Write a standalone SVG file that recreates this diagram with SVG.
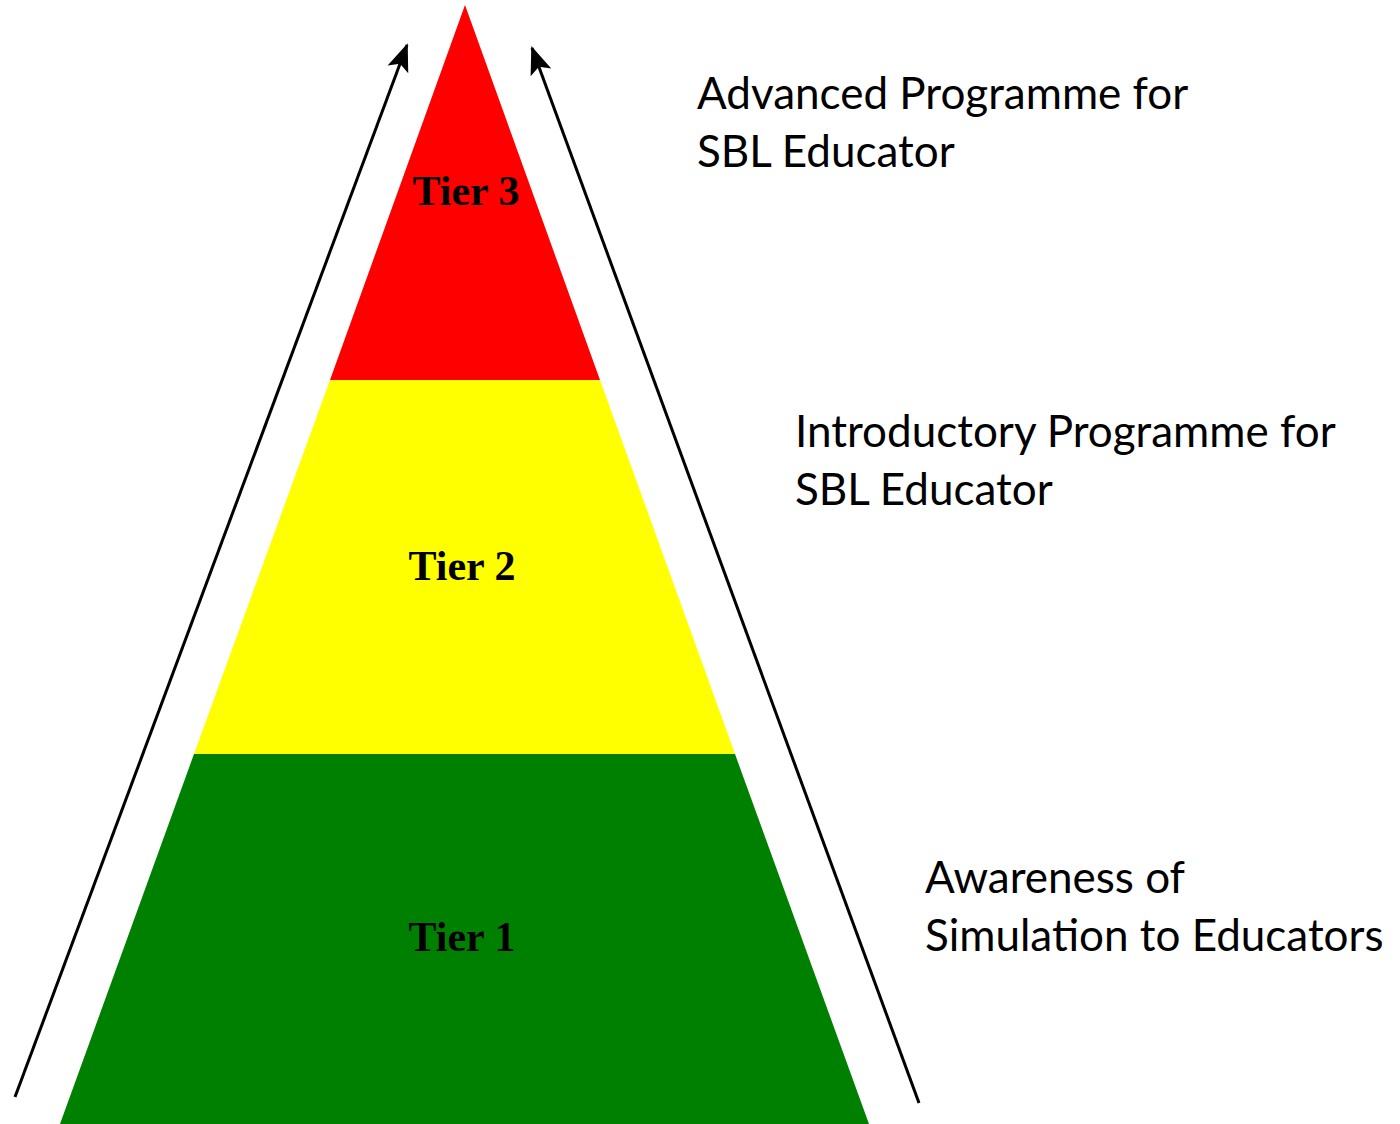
<svg xmlns="http://www.w3.org/2000/svg" width="1400" height="1124" viewBox="0 0 1400 1124">
  <style>
    .tier { font-family: "Liberation Serif", "Times New Roman", serif; font-weight: bold; font-size: 42px; fill: #000; text-anchor: middle; }
    .note { font-family: Lato, "Open Sans", sans-serif; font-size: 44px; fill: #000; }
    .arrow { stroke: #000; stroke-width: 3; fill: none; marker-end: url(#head); }
  </style>
  <defs>
    <marker id="head" markerUnits="userSpaceOnUse" markerWidth="32" markerHeight="24" refX="26" refY="11" orient="auto" overflow="visible">
      <path d="M0,0 L28,11 L0,22 L6,11 Z" fill="#000"/>
    </marker>
  </defs>
  <rect width="1400" height="1124" fill="#fff"/>

  <!-- pyramid tiers -->
  <g id="tier3">
    <polygon points="465,5 600,380 330,380" fill="#ff0000"/>
    <text class="tier" x="466" y="205">Tier 3</text>
  </g>
  <g id="tier2">
    <polygon points="330,380 600,380 735,754 194,754" fill="#ffff00"/>
    <text class="tier" x="462" y="580">Tier 2</text>
  </g>
  <g id="tier1">
    <polygon points="194,754 735,754 869,1124 60,1124" fill="#008000"/>
    <text class="tier" x="462" y="951">Tier 1</text>
  </g>

  <!-- side captions -->
  <g id="caption-advanced">
    <text class="note" x="697" y="109">Advanced Programme for</text>
    <text class="note" x="697" y="167">SBL Educator</text>
  </g>
  <g id="caption-introductory">
    <text class="note" x="795" y="447">Introductory Programme for</text>
    <text class="note" x="795" y="505">SBL Educator</text>
  </g>
  <g id="caption-awareness">
    <text class="note" x="925" y="893">Awareness of</text>
    <text class="note" x="925" y="951">Simulation to Educators</text>
  </g>

  <!-- rising arrows along both flanks -->
  <g id="connectors">
    <line class="arrow" x1="15" y1="1097" x2="407" y2="45"/>
    <line class="arrow" x1="919" y1="1103" x2="532" y2="48"/>
  </g>
</svg>
